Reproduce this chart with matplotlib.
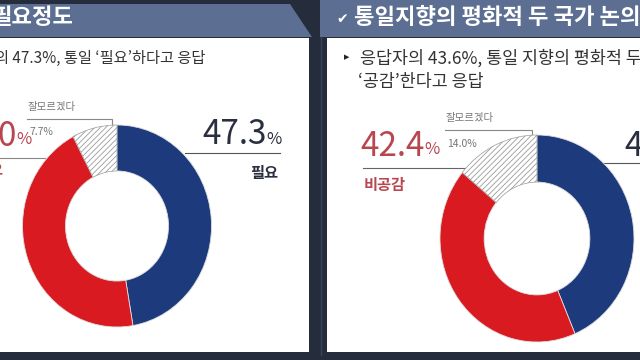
import matplotlib
matplotlib.use("Agg")
import matplotlib.pyplot as plt
from matplotlib.patches import Rectangle, Polygon

plt.rcParams['font.family'] = ['Noto Sans CJK KR', 'DejaVu Sans']
plt.rcParams['hatch.linewidth'] = 0.6

# ---- data ----
left_labels = ["필요", "불필요", "잘모르겠다"]
left_values = [47.3, 45.0, 7.7]
right_labels = ["공감", "비공감", "잘모르겠다"]
right_values = [43.6, 42.4, 14.0]
left_title = "필요정도"
right_title = "통일지향의 평화적 두 국가 논의"
left_sub = "의 47.3%, 통일 ‘필요’하다고 응답"
right_sub1 = "응답자의 43.6%, 통일 지향의 평화적 두"
right_sub2 = "‘공감’한다고 응답"

NAVY = "#1c3a7c"
RED = "#d91a21"
HATCH_GRAY = "#9b9b9b"
DARK = "#252c3b"
HEADER = "#5c6f93"
RED_TXT = "#b8464f"
NAVY_TXT = "#2a2f3f"
GRAY_TXT = "#777777"

W, H = 640, 360
fig = plt.figure(figsize=(6.4, 3.6), dpi=100)
fig.patch.set_facecolor(DARK)

bg = fig.add_axes([0, 0, 1, 1])
bg.set_xlim(0, W)
bg.set_ylim(H, 0)
bg.axis('off')

# panels
bg.add_patch(Polygon([[0, 4], [290, 4], [312, 37], [0, 37]], closed=True, color=HEADER, lw=0))
bg.add_patch(Rectangle((0, 38), 309, 314, color="white", lw=0))
bg.add_patch(Rectangle((320, 0), 320, 37, color=HEADER, lw=0))
bg.add_patch(Rectangle((327, 38), 313, 314, color="white", lw=0))
bg.plot([320.5, 320.5], [37, 355], color="#3b4458", lw=1)

# headers
bg.text(-8, 18, left_title, color="white", fontsize=16, fontweight="bold", va="center", ha="left")
bg.text(336, 19, "✔", color="white", fontsize=10, va="center", ha="left", family=['DejaVu Sans'])
bg.text(354, 18, right_title, color="white", fontsize=16, fontweight="bold", va="center", ha="left")

# subtitles
bg.text(-5, 58, left_sub, color="#333333", fontsize=11, va="center", ha="left")
bg.text(344, 57, "▶", color="#222222", fontsize=5, va="center", ha="left", family=['DejaVu Sans'])
bg.text(360, 58, right_sub1, color="#333333", fontsize=12.5, va="center", ha="left")
bg.text(358, 82, right_sub2, color="#333333", fontsize=12.5, va="center", ha="left")


def donut(rect, values):
    ax = fig.add_axes(rect)
    wedges, _ = ax.pie(values, colors=[NAVY, RED, "white"], startangle=90, counterclock=False,
                       radius=1.0, wedgeprops=dict(width=0.455, edgecolor="#dddddd", linewidth=0.6))
    wedges[2].set_hatch("//////")
    wedges[2].set_edgecolor(HATCH_GRAY)
    wedges[2].set_linewidth(0.5)
    ax.set_xlim(-1.0, 1.0)
    ax.set_ylim(-1.0, 1.0)
    ax.set_aspect("auto")
    ax.axis("off")
    return ax


def r(x0, x1, ytop, ybot):
    return [x0 / W, (H - ybot) / H, (x1 - x0) / W, (ybot - ytop) / H]


donut(r(22.5, 211.5, 125, 327), left_values)
donut(r(440, 634, 135, 342), right_values)

# ---- left annotations ----
bg.text(28, 107, left_labels[2], color=GRAY_TXT, fontsize=7.5, va="center", ha="left")
bg.plot([27, 112, 112], [119, 119, 126], color="#888888", lw=0.8)
bg.text(29, 132, f"{left_values[2]}%", color=GRAY_TXT, fontsize=7.5, va="center", ha="left")

bg.text(17, 136, f"{left_values[1]:.1f}", color=RED_TXT, fontsize=24, va="center", ha="right")
bg.text(16.5, 139, "%", color=RED_TXT, fontsize=12, va="center", ha="left")
bg.plot([0, 45], [158, 158], color="#888888", lw=0.8)
bg.text(3, 170, left_labels[1], color=RED_TXT, fontsize=11, fontweight="bold", va="center", ha="right")

bg.text(267, 135, f"{left_values[0]}", color=NAVY_TXT, fontsize=24, va="center", ha="right")
bg.text(266, 139, "%", color=NAVY_TXT, fontsize=12, va="center", ha="left")
bg.plot([185, 280], [153, 153], color="#555555", lw=0.8)
bg.text(278, 173, left_labels[0], color=NAVY_TXT, fontsize=11, fontweight="bold", va="center", ha="right")

# ---- right annotations ----
bg.text(446, 118, right_labels[2], color=GRAY_TXT, fontsize=7.5, va="center", ha="left")
bg.plot([445, 532, 532], [130, 130, 136], color="#888888", lw=0.8)
bg.text(447, 144, f"{right_values[2]:.1f}%", color=GRAY_TXT, fontsize=7.5, va="center", ha="left")

bg.text(425, 146, f"{right_values[1]}", color=RED_TXT, fontsize=24, va="center", ha="right")
bg.text(424, 150, "%", color=RED_TXT, fontsize=12, va="center", ha="left")
bg.plot([363, 465], [168, 168], color="#666666", lw=0.8)
bg.text(364, 185, right_labels[1], color=RED_TXT, fontsize=11, fontweight="bold", va="center", ha="left")

bg.text(624, 146, f"{right_values[0]}", color=NAVY_TXT, fontsize=24, va="center", ha="left")
bg.plot([603, 640], [163, 163], color="#555555", lw=0.8)

fig.savefig("out.png", dpi=100, facecolor=DARK)
